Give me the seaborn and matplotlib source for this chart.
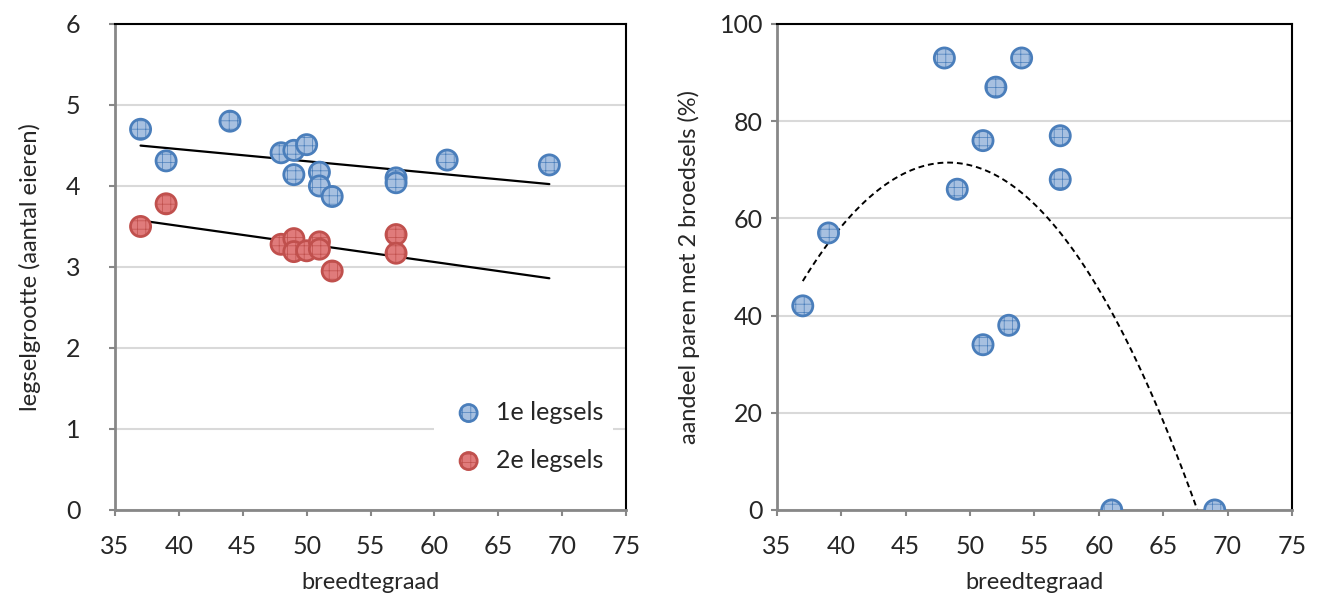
import numpy as np
import pandas as pd
import matplotlib
matplotlib.use('Agg')
import matplotlib.pyplot as plt
import seaborn as sns

# legselgrootte per breedtegraad
lat_1e = [37, 39, 44, 48, 49, 50, 49, 51, 51, 52, 57, 57, 61, 69]
size_1e = [4.70, 4.31, 4.80, 4.41, 4.44, 4.51, 4.14, 4.17, 4.00, 3.87, 4.10, 4.04, 4.32, 4.26]
lat_2e = [37, 39, 48, 49, 49, 50, 51, 51, 52, 57, 57]
size_2e = [3.50, 3.78, 3.28, 3.35, 3.19, 3.20, 3.31, 3.22, 2.95, 3.40, 3.17]

# aandeel paren met 2 broedsels
lat_pct = [37, 39, 48, 54, 52, 51, 57, 57, 49, 51, 53, 61, 69]
pct_2 = [42, 57, 93, 93, 87, 76, 77, 68, 66, 34, 38, 0, 0]

sns.set_theme(style='white')
plt.rcParams['font.family'] = ['Lato', 'DejaVu Sans']
plt.rcParams['hatch.linewidth'] = 0.5

blue_face, blue_edge = '#a7c0e0', '#4a7ebb'
red_face, red_edge = '#e07b7b', '#c0504d'
grid_c = '#d9d9d9'
spine_c = '#878787'

fig = plt.figure(figsize=(13.19, 5.98), dpi=100)
ax1 = fig.add_axes([0.0872, 0.1472, 0.3874, 0.8127])
ax2 = fig.add_axes([0.5891, 0.1472, 0.3904, 0.8127])

df1 = pd.DataFrame({'lat': lat_1e, 'size': size_1e})
df2 = pd.DataFrame({'lat': lat_2e, 'size': size_2e})
df3 = pd.DataFrame({'lat': lat_pct, 'pct': pct_2})

# lineaire trendlijnen (tot de hoogste breedtegraad)
x_trend = np.linspace(min(lat_1e), max(lat_1e), 50)
for d in (df1, df2):
    coef = np.polyfit(d['lat'], d['size'], 1)
    sns.lineplot(x=x_trend, y=np.polyval(coef, x_trend), ax=ax1,
                 color='black', lw=1.6, zorder=2)

mk = dict(s=210, linewidth=2, hatch='++', zorder=3)
sns.scatterplot(data=df1, x='lat', y='size', ax=ax1, color=blue_face,
                edgecolor=blue_edge, label='1e legsels', **mk)
sns.scatterplot(data=df2, x='lat', y='size', ax=ax1, color=red_face,
                edgecolor=red_edge, label='2e legsels', **mk)

sns.regplot(data=df3, x='lat', y='pct', ax=ax2, scatter=False, ci=None, order=2,
            line_kws=dict(color='black', lw=1.4, ls=(0, (3, 2)), zorder=2))
sns.scatterplot(data=df3, x='lat', y='pct', ax=ax2, color=blue_face,
                edgecolor=blue_edge, legend=False, **mk)

ax1.set_ylim(0, 6)
ax1.set_yticks(range(0, 7))
ax2.set_ylim(0, 100)
ax2.set_yticks(range(0, 101, 20))

for ax in (ax1, ax2):
    ax.set_xlim(35, 75)
    ax.set_xticks(range(35, 76, 5))
    ax.yaxis.grid(True, color=grid_c, lw=1.5)
    ax.set_axisbelow(True)
    ax.set_xlabel('breedtegraad', fontsize=17, labelpad=10)
    ax.tick_params(axis='both', labelsize=18, length=4, width=1.5,
                   color=spine_c, direction='out', bottom=True, left=True)
    ax.tick_params(axis='x', pad=14)
    for side in ('left', 'bottom'):
        ax.spines[side].set_color(spine_c)
        ax.spines[side].set_linewidth(2)
    for side in ('top', 'right'):
        ax.spines[side].set_color('black')
        ax.spines[side].set_linewidth(1.5)

ax1.tick_params(axis='y', pad=21)
ax2.tick_params(axis='y', pad=6)
ax1.set_ylabel('legselgrootte (aantal eieren)', fontsize=17, labelpad=18)
ax2.set_ylabel('aandeel paren met 2 broedsels (%)', fontsize=17, labelpad=14)

leg = ax1.legend(loc='center right', bbox_to_anchor=(1.0, 0.152), frameon=True,
                 fontsize=18, framealpha=1, edgecolor='white', handletextpad=0.1,
                 labelspacing=1.0, markerscale=0.85)
leg.get_frame().set_linewidth(0)

fig.savefig('out.png', dpi=100)
